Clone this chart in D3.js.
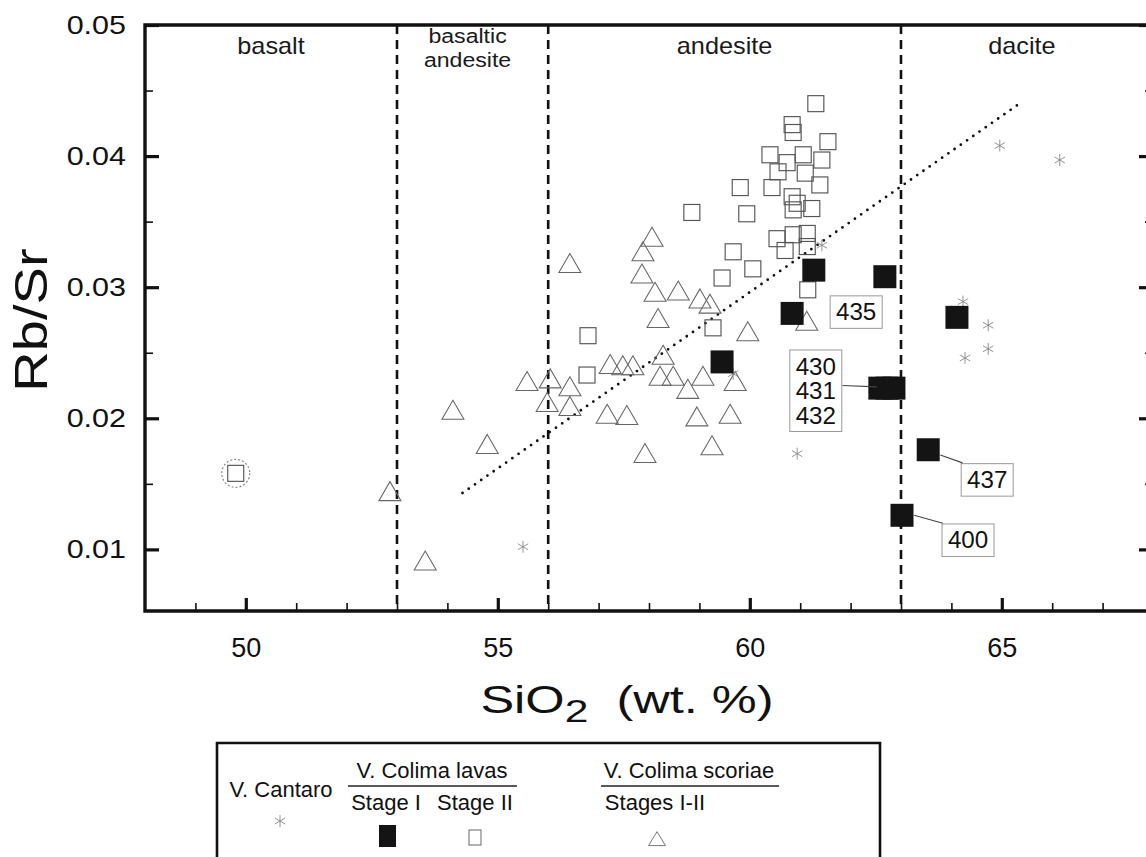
<!DOCTYPE html>
<html><head><meta charset="utf-8">
<script src="https://cdn.jsdelivr.net/npm/d3@7"></script>
<style>
body{margin:0;background:#fff}
svg{display:block}
</style>
</head><body>
<svg id="chart" width="1146" height="857"></svg>
<script>
// ---------------- DATA ----------------
const xTicks = [50, 55, 60, 65];
const yTicks = [0.01, 0.02, 0.03, 0.04, 0.05];
const xMinorTicks = [49, 51, 52, 53, 54, 56, 57, 58, 59, 61, 62, 63, 64, 66, 67];
const yMinorTicks = [0.015, 0.025, 0.035, 0.045];
const boundaries = [53, 56, 63];
const regionNames = [["basalt"], ["basaltic", "andesite"], ["andesite"], ["dacite"]];
const regionCenters = [50.5, 54.4, 59.5, 65.4];

// V. Cantaro (asterisks)
const cantaro = [
  [64.96, 0.0408], [66.15, 0.0397], [64.23, 0.0289], [64.73, 0.0271],
  [64.73, 0.0253], [64.27, 0.0246], [60.94, 0.0173], [55.50, 0.0102],
  [59.67, 0.0234], [61.43, 0.0332]
];
// V. Colima lavas, Stage I (filled squares)
const stageI = [
  [61.27, 0.0313], [62.68, 0.0308], [60.84, 0.0280], [64.11, 0.0277],
  [59.45, 0.0243], [62.58, 0.0223], [62.72, 0.0223], [62.86, 0.0223],
  [63.54, 0.0176], [63.02, 0.0126]
];
// V. Colima lavas, Stage II (open squares)
const stageII = [
  [61.31, 0.0440], [60.84, 0.0424], [60.86, 0.0418], [61.55, 0.0411],
  [60.40, 0.0401], [60.74, 0.0395], [61.06, 0.0401], [61.43, 0.0397],
  [60.56, 0.0388], [61.10, 0.0387], [61.39, 0.0378], [59.81, 0.0376],
  [60.44, 0.0376], [60.84, 0.0369], [60.94, 0.0364], [61.23, 0.0360],
  [58.85, 0.0357], [59.94, 0.0356], [60.86, 0.0359], [60.54, 0.0337],
  [60.86, 0.0340], [61.14, 0.0341], [60.70, 0.0328], [61.14, 0.0331],
  [59.67, 0.0327], [60.06, 0.0314], [59.45, 0.0307], [61.15, 0.0298],
  [59.27, 0.0269], [56.79, 0.0263], [56.77, 0.0233]
];
// circled Stage II sample
const circledSample = [[49.80, 0.0158]];
// V. Colima scoriae, Stages I-II (open triangles)
const scoriae = [
  [58.06, 0.0337], [57.88, 0.0326], [57.86, 0.0309], [58.12, 0.0295],
  [58.58, 0.0296], [59.01, 0.0290], [59.21, 0.0286], [58.18, 0.0275],
  [59.96, 0.0265], [61.13, 0.0273], [58.28, 0.0247], [57.68, 0.0239],
  [57.48, 0.0239], [58.22, 0.0231], [58.48, 0.0231], [58.77, 0.0221],
  [59.07, 0.0231], [59.71, 0.0227], [58.95, 0.0200], [59.61, 0.0202],
  [57.56, 0.0201], [59.25, 0.0178], [57.92, 0.0172], [56.43, 0.0317],
  [57.23, 0.0240], [55.58, 0.0227], [56.04, 0.0229], [56.43, 0.0223],
  [55.98, 0.0211], [56.43, 0.0208], [57.17, 0.0202], [54.11, 0.0205],
  [54.79, 0.0179], [52.86, 0.0143], [53.56, 0.0090]
];
// dotted trend line end points
const trendLine = [[54.30, 0.0143], [65.35, 0.0440]];
// sample-number annotations: text lines, box centre, leader line (data coords)
const annotations = [
  { lines: ["435"], at: [62.11, 0.0281], leader: null },
  { lines: ["430", "431", "432"], at: [61.31, 0.0221], leader: [[62.52, 0.0224], [61.84, 0.0225]] },
  { lines: ["437"], at: [64.71, 0.0153], leader: [[63.78, 0.0172], [64.22, 0.0166]] },
  { lines: ["400"], at: [64.33, 0.0107], leader: [[63.26, 0.0126], [63.83, 0.0120]] }
];

// ---------------- CHART ----------------
const svg = d3.select("#chart");
const SANS = '"Liberation Sans", Arial, Helvetica, sans-serif';
const NARROW = '"Liberation Sans Narrow", "Liberation Sans", Arial, sans-serif';

const x = d3.scaleLinear().domain([48, 68]).range([145, 1153]);
const y = d3.scaleLinear().domain([0.0053, 0.05]).range([611, 25]);

const INK = "#111";

function label(g, str, px, py, o) {
  return g.append("text")
    .attr("transform", `translate(${px},${py}) scale(${o.sx || 1},1)`)
    .attr("text-anchor", o.anchor || "middle")
    .style("font-family", o.family || SANS)
    .style("font-size", o.size + "px")
    .style("fill", o.fill || INK)
    .text(str);
}

// boundaries (dashed)
svg.append("g").selectAll("line").data(boundaries).join("line")
  .attr("x1", d => x(d)).attr("x2", d => x(d))
  .attr("y1", y(0.05)).attr("y2", y.range()[0])
  .attr("stroke", INK).attr("stroke-width", 2.6).attr("stroke-dasharray", "9,6");

// region names
regionNames.forEach((lines, i) => {
  const g = svg.append("g");
  const top = lines.length === 1 ? 54 : 43;
  const size = lines.length === 1 ? 23 : 21;
  lines.forEach((t, j) => label(g, t, x(regionCenters[i]), top + j * 24, { size: size, sx: 1.1, fill: "#1a1a1a" }));
});

// trend line (dotted)
svg.append("path")
  .attr("d", d3.line().x(d => x(d[0])).y(d => y(d[1]))(trendLine))
  .attr("fill", "none").attr("stroke", INK).attr("stroke-width", 2.8)
  .attr("stroke-linecap", "round").attr("stroke-dasharray", "0,7.6");

// ---- markers ----
const markG = svg.append("g");
const tri = (cx, cy, w, h) => `M${cx},${cy - h * 0.6}L${cx + w / 2},${cy + h * 0.4}L${cx - w / 2},${cy + h * 0.4}Z`;
markG.append("g").selectAll("path").data(scoriae).join("path")
  .attr("d", d => tri(x(d[0]), y(d[1]), 22, 19))
  .attr("fill", "none").attr("stroke", "#666").attr("stroke-width", 1.05);
markG.append("g").selectAll("rect").data(stageII.concat(circledSample)).join("rect")
  .attr("x", d => x(d[0]) - 8).attr("y", d => y(d[1]) - 8)
  .attr("width", 16).attr("height", 16)
  .attr("fill", "none").attr("stroke", "#555").attr("stroke-width", 1.15);
markG.append("g").selectAll("circle").data(circledSample).join("circle")
  .attr("cx", d => x(d[0])).attr("cy", d => y(d[1])).attr("r", 14)
  .attr("fill", "none").attr("stroke", "#888").attr("stroke-width", 1.2)
  .attr("stroke-dasharray", "2,2");
const star = (cx, cy, r) => {
  let p = "";
  for (let k = 0; k < 3; k++) {
    const a = Math.PI / 2 + k * Math.PI / 3;
    p += `M${cx + r * Math.cos(a)},${cy + r * Math.sin(a)}L${cx - r * Math.cos(a)},${cy - r * Math.sin(a)}`;
  }
  return p;
};
markG.append("g").selectAll("path").data(cantaro).join("path")
  .attr("d", d => star(x(d[0]), y(d[1]), 6))
  .attr("fill", "none").attr("stroke", "#888").attr("stroke-width", 0.9);
markG.append("g").selectAll("rect").data(stageI).join("rect")
  .attr("x", d => x(d[0]) - 11.5).attr("y", d => y(d[1]) - 11.5)
  .attr("width", 23).attr("height", 23).attr("fill", "#141414");

// ---- annotations ----
const annG = svg.append("g");
annotations.forEach(a => {
  const cx = x(a.at[0]), cy = y(a.at[1]);
  const w = 52, lh = 24.5, h = a.lines.length * lh + 8;
  annG.append("rect").attr("x", cx - w / 2).attr("y", cy - h / 2).attr("width", w).attr("height", h)
    .attr("fill", "none").attr("stroke", "#999").attr("stroke-width", 1);
  a.lines.forEach((t, j) => {
    label(annG, t, cx, cy - h / 2 + 4 + (j + 1) * lh - 4, { size: 23, sx: 1.05 });
  });
  if (a.leader) {
    annG.append("path")
      .attr("d", d3.line().x(d => x(d[0])).y(d => y(d[1]))(a.leader))
      .attr("stroke", "#444").attr("stroke-width", 1.1).attr("fill", "none");
  }
});

// ---- axes ----
const xl = x(48), xr = x(68), yb = y.range()[0], yt = y(0.05);
const axG = svg.append("g");

const yMajor = axG.append("g").attr("transform", `translate(${xl},0)`)
  .call(d3.axisLeft(y).tickValues(yTicks).tickSizeInner(-14).tickSizeOuter(0).tickPadding(19).tickFormat(d3.format(".2f")));
const yMinor = axG.append("g").attr("transform", `translate(${xl},0)`)
  .call(d3.axisLeft(y).tickValues(yMinorTicks).tickSizeInner(-8).tickSizeOuter(0).tickFormat(""));
const yRight = axG.append("g").attr("transform", `translate(${xr},0)`)
  .call(d3.axisRight(y).tickValues(yTicks).tickSizeInner(-14).tickSizeOuter(0).tickFormat(""));
const yRightMinor = axG.append("g").attr("transform", `translate(${xr},0)`)
  .call(d3.axisRight(y).tickValues(yMinorTicks).tickSizeInner(-8).tickSizeOuter(0).tickFormat(""));
const xMajor = axG.append("g").attr("transform", `translate(0,${yb})`)
  .call(d3.axisBottom(x).tickValues(xTicks).tickSizeInner(-13).tickSizeOuter(0).tickPadding(27).tickFormat(d3.format("d")));
const xMinor = axG.append("g").attr("transform", `translate(0,${yb})`)
  .call(d3.axisBottom(x).tickValues(xMinorTicks).tickSizeInner(-8).tickSizeOuter(0).tickFormat(""));

axG.selectAll(".domain").remove();
[yMajor, yRight, xMajor].forEach(g => g.selectAll(".tick line").attr("stroke", INK).attr("stroke-width", 3.2));
[yMinor, yRightMinor, xMinor].forEach(g => g.selectAll(".tick line").attr("stroke", INK).attr("stroke-width", 1.6));

yMajor.selectAll(".tick text")
  .style("font-family", SANS).style("font-size", "25px").attr("fill", INK)
  .attr("x", -19 / 1.22).attr("transform", "scale(1.22,1)");
xMajor.selectAll(".tick text")
  .style("font-family", SANS).style("font-size", "27px").attr("fill", INK);

// frame
axG.append("path")
  .attr("d", `M${xr},${yt}L${xl},${yt}L${xl},${yb}L${xr},${yb}L${xr},${yt}`)
  .attr("fill", "none").attr("stroke", INK).attr("stroke-width", 3.4);

// axis titles
svg.append("text")
  .attr("transform", `translate(47,320) rotate(-90) scale(1.22,1)`)
  .attr("text-anchor", "middle")
  .style("font-family", SANS).style("font-size", "46px").style("fill", INK)
  .text("Rb/Sr");

const tX = svg.append("text")
  .attr("transform", `translate(627,713) scale(1.33,1)`)
  .attr("text-anchor", "middle")
  .style("font-family", SANS).style("font-size", "38px").style("fill", INK);
tX.append("tspan").text("SiO");
tX.append("tspan").attr("dy", 9).style("font-size", "32px").text("2");
tX.append("tspan").attr("dy", -9).text("\u00a0 (wt. %)");

// ---- legend ----
const lg = svg.append("g");
lg.append("path").attr("d", "M217,870L217,743L880,743L880,870")
  .attr("fill", "none").attr("stroke", INK).attr("stroke-width", 2.6);
const LF = { size: 22, family: NARROW };
label(lg, "V. Cantaro", 281, 797, LF);
label(lg, "V. Colima lavas", 432, 778, LF);
label(lg, "V. Colima scoriae", 689, 778, LF);
label(lg, "Stage I", 386, 810, LF);
label(lg, "Stage II", 475, 810, LF);
label(lg, "Stages I-II", 655, 810, LF);
lg.append("line").attr("x1", 348).attr("x2", 517).attr("y1", 786).attr("y2", 786).attr("stroke", "#222").attr("stroke-width", 1.6);
lg.append("line").attr("x1", 601).attr("x2", 779).attr("y1", 786).attr("y2", 786).attr("stroke", "#222").attr("stroke-width", 1.6);
lg.append("path").attr("d", star(280, 821, 6)).attr("stroke", "#888").attr("stroke-width", 0.9).attr("fill", "none");
lg.append("rect").attr("x", 379).attr("y", 825).attr("width", 17).attr("height", 22).attr("fill", "#141414");
lg.append("rect").attr("x", 469).attr("y", 830).attr("width", 12).attr("height", 15).attr("fill", "none").attr("stroke", "#666").attr("stroke-width", 1);
lg.append("path").attr("d", tri(657, 840, 17, 14)).attr("fill", "none").attr("stroke", "#777").attr("stroke-width", 1);
</script>
</body></html>
